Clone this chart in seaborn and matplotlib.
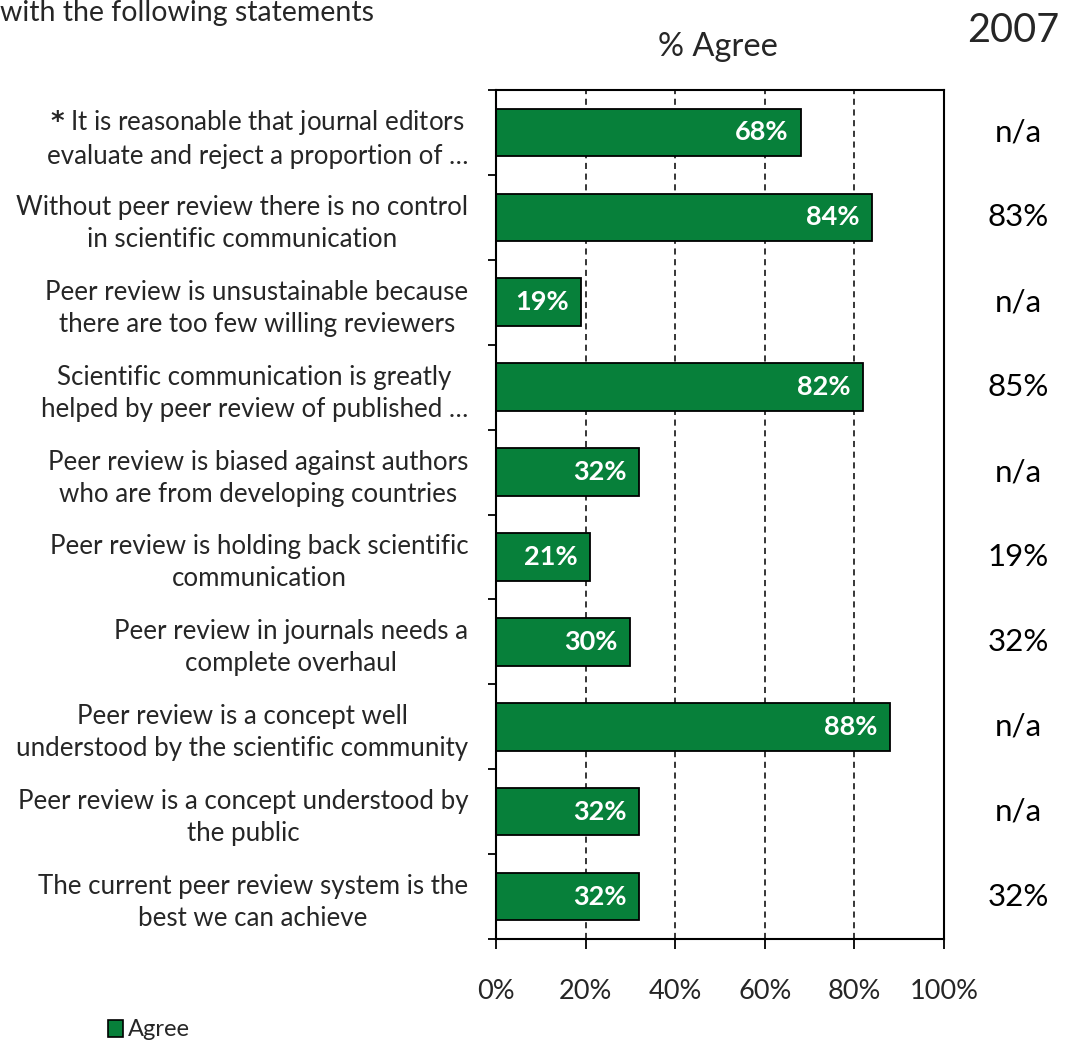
import matplotlib
matplotlib.use("Agg")
import matplotlib.pyplot as plt
import seaborn as sns
import pandas as pd
from matplotlib.patches import Patch

# Survey statements (top to bottom) and share agreeing
statements = [
    "$\\mathbf{*}$ It is reasonable that journal editors\nevaluate and reject a proportion of …",
    "Without peer review there is no control\nin scientific communication",
    "Peer review is unsustainable because\nthere are too few willing reviewers",
    "Scientific communication is greatly\nhelped by peer review of published …",
    "Peer review is biased against authors\nwho are from developing countries",
    "Peer review is holding back scientific\ncommunication",
    "Peer review in journals needs a\ncomplete overhaul",
    "Peer review is a concept well\nunderstood by the scientific community",
    "Peer review is a concept understood by\nthe public",
    "The current peer review system is the\nbest we can achieve",
]
agree_pct = [68, 84, 19, 82, 32, 21, 30, 88, 32, 32]
results_2007 = ["n/a", "83%", "n/a", "85%", "n/a", "19%", "32%", "n/a", "n/a", "32%"]
x_ticks = [0, 20, 40, 60, 80, 100]
x_tick_labels = ["0%", "20%", "40%", "60%", "80%", "100%"]

GREEN = "#07803a"

sns.set_theme(style="white")
plt.rcParams["font.family"] = ["Lato", "DejaVu Sans"]
plt.rcParams["mathtext.fontset"] = "dejavusans"

df = pd.DataFrame({"statement": statements, "agree": agree_pct})

fig = plt.figure(figsize=(10.75, 10.46), dpi=100)
ax = fig.add_axes([496 / 1075, 1 - 939 / 1046, 448 / 1075, (939 - 90) / 1046])

sns.barplot(data=df, x="agree", y="statement", orient="h", color=GREEN,
            edgecolor="black", linewidth=1.3, width=0.56, saturation=1, ax=ax)

ax.set_xlim(0, 100)
ax.set_ylim(len(statements) - 0.5, -0.5)
ax.set_xticks(x_ticks)
ax.set_xticklabels(x_tick_labels, fontsize=19.5)
ax.set_yticks([i - 0.5 for i in range(len(statements) + 1)], minor=False)
ax.set_yticklabels([])
ax.set_yticks(range(len(statements)), minor=True)
ax.set_yticklabels(statements, minor=True, fontsize=18.6,
                   multialignment="center", linespacing=1.35)
ax.tick_params(axis="y", which="minor", length=0, pad=20)
ax.tick_params(axis="y", which="major", length=6, width=1.3, color="black", direction="out", left=True)
ax.tick_params(axis="x", length=7, width=1.3, color="black", direction="out", bottom=True, pad=22)
ax.set_xlabel("")
ax.set_ylabel("")

for sp in ax.spines.values():
    sp.set_color("black")
    sp.set_linewidth(1.5)

# dashed vertical gridlines
for xv in x_ticks[1:-1]:
    ax.axvline(xv, color="black", linestyle=(0, (4, 3)), linewidth=1.1, zorder=0)

# value labels inside bar ends
for i, v in enumerate(agree_pct):
    ax.text(v - 2.8, i, f"{v}%", ha="right", va="center", color="white",
            fontsize=19.5, fontweight="bold")

# 2007 comparison column
for i, s in enumerate(results_2007):
    ax.text(1.165, i, s, transform=ax.get_yaxis_transform(), ha="center",
            va="center", fontsize=22.5, color="black")

fig.text(1013 / 1075, 1 - 30 / 1046, "2007", ha="center", va="center", fontsize=28.5)
fig.text(718 / 1075, 1 - 47 / 1046, "% Agree", ha="center", va="center", fontsize=23.5)
fig.text(0, 1 - 13 / 1046, "with the following statements", ha="left", va="center", fontsize=20.5)

leg = fig.legend(handles=[Patch(facecolor=GREEN, edgecolor="black", linewidth=1.2, label="Agree")],
                 loc="center left", bbox_to_anchor=(108 / 1075, 1 - 1030 / 1046),
                 frameon=False, fontsize=17, handlelength=0.65, handleheight=0.7,
                 handletextpad=0.2, borderpad=0, borderaxespad=0)

fig.savefig("out.png", dpi=100)
